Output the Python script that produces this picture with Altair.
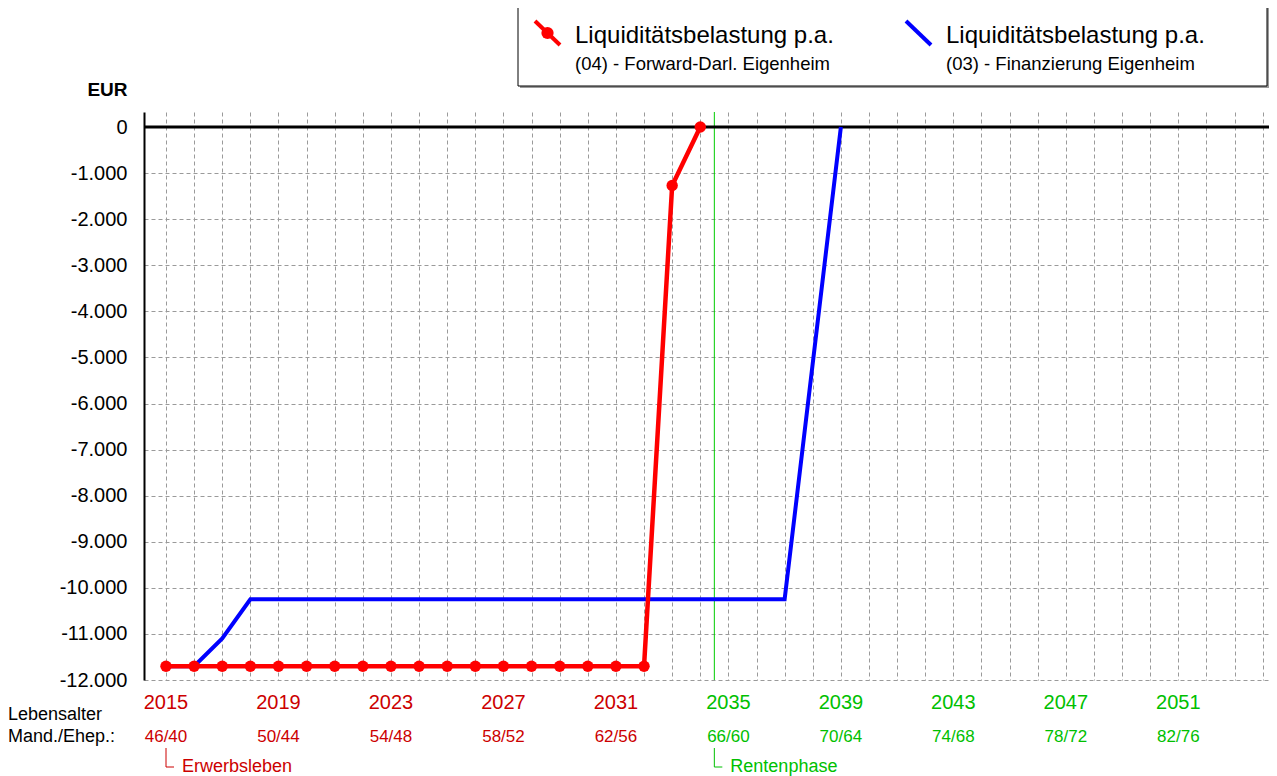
import altair as alt
import pandas as pd

# ---------------- data ----------------
red_years = [2015, 2016, 2017, 2018, 2019, 2020, 2021, 2022, 2023, 2024,
             2025, 2026, 2027, 2028, 2029, 2030, 2031, 2032, 2033, 2034]
red_values = [-11700, -11700, -11700, -11700, -11700, -11700, -11700, -11700, -11700, -11700,
              -11700, -11700, -11700, -11700, -11700, -11700, -11700, -11700, -1270, 0]

blue_years = [2015, 2016, 2017, 2018, 2019, 2020, 2021, 2022, 2023, 2024, 2025, 2026,
              2027, 2028, 2029, 2030, 2031, 2032, 2033, 2034, 2035, 2036, 2037, 2039]
blue_values = [-11700, -11700, -11100, -10250, -10250, -10250, -10250, -10250, -10250,
               -10250, -10250, -10250, -10250, -10250, -10250, -10250, -10250, -10250,
               -10250, -10250, -10250, -10250, -10250, 0]

tick_years = [2015, 2019, 2023, 2027, 2031, 2035, 2039, 2043, 2047, 2051]
age_labels = ["46/40", "50/44", "54/48", "58/52", "62/56",
              "66/60", "70/64", "74/68", "78/72", "82/76"]
grid_years = list(range(2015, 2055))
y_ticks = [-12000, -11000, -10000, -9000, -8000, -7000, -6000,
           -5000, -4000, -3000, -2000, -1000, 0]

phase_names = ["Erwerbsleben", "Rentenphase"]
phase_starts = [2015, 2034.5]
row_caption = "Lebensalter\nMand./Ehep.:"

legend_titles = ["Liquiditätsbelastung p.a.", "Liquiditätsbelastung p.a."]
legend_subtitles = ["(04) - Forward-Darl. Eigenheim", "(03) - Finanzierung Eigenheim"]

# ---------------- styling ----------------
FONT = "Liberation Sans"
RED = "#FF0000"
BLUE = "#0000FF"
LBL_RED = "#CC0000"
LBL_GREEN = "#00C000"
GRID = "#9a9a9a"

W, H = 1125, 568
PX_PER_YEAR = 28.12
x0 = 2015 - 22 / PX_PER_YEAR
x1 = x0 + W / PX_PER_YEAR
y_top = 12000 * 15 / 553

xs = alt.Scale(domain=[x0, x1], nice=False, zero=False)
ys = alt.Scale(domain=[-12000, y_top], nice=False, zero=False)

XAX = alt.Axis(values=grid_years, grid=True, gridDash=[4, 3], gridColor=GRID, gridWidth=1,
               labels=False, ticks=False, domain=False, title=None)
YAX = alt.Axis(values=y_ticks, grid=True, gridDash=[4, 3], gridColor=GRID, gridWidth=1,
               ticks=False, domain=True, domainColor="black", domainWidth=2,
               labelExpr="(datum.value < 0 ? '-' : '') + replace(format(abs(datum.value), ','), ',', '.')",
               labelFontSize=20, labelFont=FONT, labelColor="black", labelPadding=17,
               title="EUR", titleAngle=0, titleAlign="right", titleX=-17, titleY=-17,
               titleBaseline="alphabetic", titleFontSize=19, titleFont=FONT,
               titleFontWeight="bold", titleColor="black")


def X(field):
    return alt.X(field, scale=xs, axis=XAX)


def Y(field):
    return alt.Y(field, scale=ys, axis=YAX)


retire = phase_starts[1]
phase_colors = [LBL_RED, LBL_GREEN]

red_df = pd.DataFrame({"year": red_years, "value": red_values})
blue_df = pd.DataFrame({"year": blue_years, "value": blue_values})
tick_df = pd.DataFrame({
    "year": tick_years,
    "age": age_labels,
    "label": [str(y) for y in tick_years],
    "color": [LBL_RED if y < retire else LBL_GREEN for y in tick_years],
})
phase_df = pd.DataFrame({
    "name": phase_names,
    "start": phase_starts,
    "end": [s + 8 / PX_PER_YEAR for s in phase_starts],
    "color": phase_colors,
})
one = pd.DataFrame({"k": [0]})

green_line = alt.Chart(pd.DataFrame({"year": [retire]})).mark_rule(
    color="#00CC00", strokeWidth=1).encode(x=X("year:Q"))

zero_line = alt.Chart(pd.DataFrame({"value": [0]})).mark_rule(
    color="black", strokeWidth=3).encode(y=Y("value:Q"))

blue_line = alt.Chart(blue_df).mark_line(color=BLUE, strokeWidth=4).encode(
    x=X("year:Q"), y=Y("value:Q"))

red_line = alt.Chart(red_df).mark_line(color=RED, strokeWidth=4.5).encode(
    x=X("year:Q"), y=Y("value:Q"))

red_pts = alt.Chart(red_df).mark_circle(color=RED, size=130, opacity=1).encode(
    x=X("year:Q"), y=Y("value:Q"))

year_text = alt.Chart(tick_df).mark_text(
    font=FONT, fontSize=20, align="center", baseline="alphabetic").encode(
    x=X("year:Q"), y=alt.value(597),
    text="label:N", color=alt.Color("color:N", scale=None))

age_text = alt.Chart(tick_df).mark_text(
    font=FONT, fontSize=17, align="center", baseline="alphabetic").encode(
    x=X("year:Q"), y=alt.value(630),
    text="age:N", color=alt.Color("color:N", scale=None))

caption = alt.Chart(pd.DataFrame({"t": [row_caption]})).mark_text(
    font=FONT, fontSize=18, align="left", baseline="alphabetic",
    lineBreak="\n", lineHeight=22, color="black").encode(
    x=alt.value(-136), y=alt.value(608), text="t:N")

phase_v = alt.Chart(phase_df).mark_rule(strokeWidth=1).encode(
    x=X("start:Q"), y=alt.value(636), y2=alt.value(655),
    color=alt.Color("color:N", scale=None))
phase_h = alt.Chart(phase_df).mark_rule(strokeWidth=1).encode(
    x=X("start:Q"), x2="end:Q", y=alt.value(655),
    color=alt.Color("color:N", scale=None))
phase_text = alt.Chart(phase_df).mark_text(
    font=FONT, fontSize=18, align="left", baseline="alphabetic", dx=16).encode(
    x=X("start:Q"), y=alt.value(660),
    text="name:N", color=alt.Color("color:N", scale=None))

# ---------------- legend ----------------
legend_shadow = alt.Chart(one).mark_rect(fill="#9a9a9a").encode(
    x=alt.value(376), x2=alt.value(1125), y=alt.value(-105), y2=alt.value(-24))
legend_box = alt.Chart(one).mark_rect(fill="white", stroke="black", strokeWidth=1).encode(
    x=alt.value(374), x2=alt.value(1123), y=alt.value(-107), y2=alt.value(-26))

legend_layers = [legend_shadow, legend_box]
legend_colors = [RED, BLUE]
for i, (t, s, c) in enumerate(zip(legend_titles, legend_subtitles, legend_colors)):
    off = i * 371
    legend_layers.append(alt.Chart(one).mark_rule(color=c, strokeWidth=4).encode(
        x=alt.value(391 + off), x2=alt.value(416 + off),
        y=alt.value(-91), y2=alt.value(-67)))
    if i == 0:
        legend_layers.append(alt.Chart(one).mark_circle(color=c, size=150, opacity=1).encode(
            x=alt.value(403.5 + off), y=alt.value(-79)))
    legend_layers.append(alt.Chart(pd.DataFrame({"t": [t]})).mark_text(
        font=FONT, fontSize=24, align="left", baseline="alphabetic", color="black").encode(
        x=alt.value(431 + off), y=alt.value(-69), text="t:N"))
    legend_layers.append(alt.Chart(pd.DataFrame({"t": [s]})).mark_text(
        font=FONT, fontSize=18.5, align="left", baseline="alphabetic", color="black").encode(
        x=alt.value(431 + off), y=alt.value(-42), text="t:N"))

chart = alt.layer(
    green_line, zero_line, blue_line, red_line, red_pts,
    year_text, age_text, caption, phase_v, phase_h, phase_text,
    *legend_layers,
).properties(
    width=W, height=H,
    autosize=alt.AutoSizeParams(type="none"),
    padding={"left": 136, "top": 104, "right": 0, "bottom": 96},
    background="white",
).configure_view(strokeWidth=0)

chart.save("out.html", embed_options={"renderer": "svg", "actions": False})
